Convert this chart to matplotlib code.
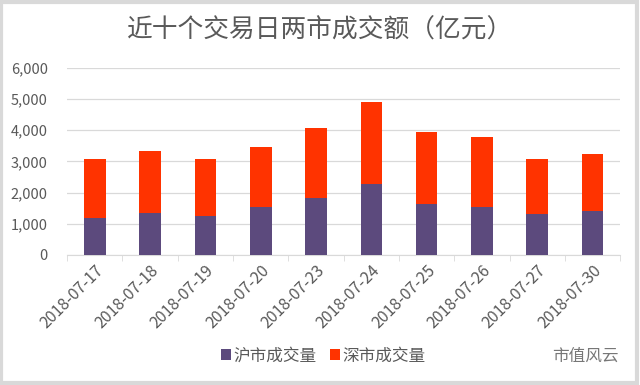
import numpy as np
import matplotlib
matplotlib.use("Agg")
import matplotlib.pyplot as plt
from matplotlib.patches import Rectangle

plt.rcParams['font.family'] = ['Noto Sans CJK SC', 'DejaVu Sans']

DATES = ["2018-07-17", "2018-07-18", "2018-07-19", "2018-07-20", "2018-07-23",
         "2018-07-24", "2018-07-25", "2018-07-26", "2018-07-27", "2018-07-30"]
SH = [1195, 1355, 1235, 1525, 1825, 2270, 1630, 1550, 1300, 1420]
SZ = [1870, 1980, 1850, 1925, 2250, 2635, 2315, 2235, 1785, 1825]
YTICKS = [0, 1000, 2000, 3000, 4000, 5000, 6000]

PURPLE = "#5C4A7D"
RED = "#FF3300"
GREY = "#595959"


def main():
    fig = plt.figure(figsize=(6.4, 3.85), dpi=100)
    # light frame around the picture
    fig.patches.append(Rectangle((0.002, 0.004), 0.994, 0.992, transform=fig.transFigure,
                                 fill=False, ec="#D9D9D9", lw=3))
    ax = fig.add_axes([0.105, 0.338, 0.864, 0.486])
    xs = np.arange(len(DATES))
    ax.bar(xs, SH, width=0.39, color=PURPLE, label="沪市成交量", zorder=3)
    ax.bar(xs, SZ, width=0.39, bottom=SH, color=RED, label="深市成交量", zorder=3)

    ax.set_xlim(-0.5, len(DATES) - 0.5)
    ax.set_ylim(0, 6000)
    ax.set_yticks(YTICKS)
    ax.set_yticklabels([f"{v:,}" for v in YTICKS], fontsize=10.5, color=GREY)
    ax.set_xticks(xs)
    ax.set_xticklabels(DATES, rotation=45, ha="right", rotation_mode="anchor",
                       fontsize=11.5, color=GREY)
    ax.tick_params(axis="y", length=0, pad=14)
    ax.tick_params(axis="x", length=0, pad=5)
    # separator ticks between categories
    ax.set_xticks(np.arange(-0.5, len(DATES), 1.0), minor=True)
    ax.tick_params(axis="x", which="minor", length=4, color="#D9D9D9")
    ax.grid(axis="y", color="#D9D9D9", lw=0.9, zorder=0)
    for s in ["top", "right", "left"]:
        ax.spines[s].set_visible(False)
    ax.spines["bottom"].set_color("#D9D9D9")

    fig.text(0.5, 0.92, "近十个交易日两市成交额（亿元）", ha="center", va="center",
             fontsize=18.5, color=GREY, fontweight="light")
    fig.legend(loc="center", bbox_to_anchor=(0.505, 0.075), ncol=2, frameon=False,
               fontsize=12, handlelength=0.6, handleheight=0.6, handletextpad=0.15,
               columnspacing=0.8, labelcolor=GREY)
    fig.text(0.967, 0.075, "市值风云", ha="right", va="center", fontsize=12, color="#777777")

    fig.savefig("out.png", dpi=100)
    plt.close(fig)


if __name__ == "__main__":
    main()
